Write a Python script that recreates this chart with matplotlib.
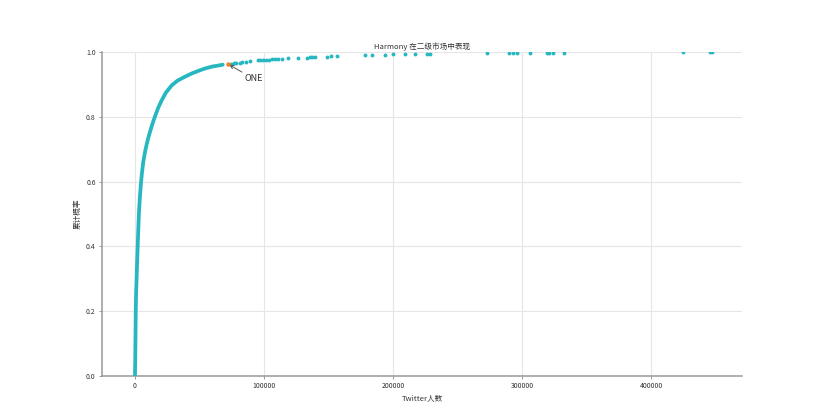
import matplotlib
matplotlib.use("Agg")
import matplotlib.pyplot as plt

plt.rcParams['font.family'] = ['Noto Sans CJK SC', 'DejaVu Sans']

# dense part of the cumulative curve (Twitter followers, cumulative probability)
curve_x = [0, 200, 400, 600, 900, 1300, 1700, 2100, 2600, 3100, 3700, 4400, 5300,
           6400, 7700, 9000, 10300, 11600, 13500, 15500, 18000, 20700, 24000,
           28400, 33000, 38800, 44000, 49100, 54000, 59500, 64000, 68000]
curve_y = [0.0, 0.05, 0.12, 0.20, 0.26, 0.306, 0.355, 0.40, 0.455, 0.505, 0.545,
           0.583, 0.623, 0.660, 0.690, 0.714, 0.735, 0.753, 0.778, 0.801, 0.828,
           0.851, 0.875, 0.897, 0.912, 0.924, 0.934, 0.942, 0.949, 0.955, 0.958, 0.961]

# sparse tail
tail_x = [74500, 76500, 78500, 81000, 83000, 86000, 89000, 95000, 97000, 99000,
          101500, 103500, 106000, 108500, 111000, 114000, 118600, 126400, 133500,
          135500, 137500, 139500, 149000, 151500, 156600, 178300, 183700, 193800,
          200000, 209300, 217000, 226400, 228700, 272900, 290000, 292500, 296100,
          306200, 319000, 321000, 323500, 332600, 424800, 445500, 447300]
tail_y = [0.964, 0.965, 0.966, 0.967, 0.968, 0.969, 0.971, 0.974, 0.975, 0.976,
          0.977, 0.977, 0.978, 0.978, 0.979, 0.980, 0.981, 0.982, 0.983, 0.984,
          0.984, 0.985, 0.986, 0.987, 0.988, 0.990, 0.991, 0.992, 0.993, 0.993,
          0.994, 0.995, 0.995, 0.996, 0.996, 0.997, 0.997, 0.997, 0.998, 0.998,
          0.998, 0.998, 0.999, 1.0, 1.0]

one_x, one_y = 72100, 0.963

teal = '#26b7c1'

fig = plt.figure(figsize=(8.22, 4.2), dpi=100)
ax = fig.add_axes([0.124, 0.105, 0.779, 0.771])

ax.plot(curve_x, curve_y, '-', color=teal, linewidth=2.7, solid_capstyle='round', zorder=3)
ax.plot(tail_x, tail_y, 'o', color=teal, markersize=2.8, markeredgewidth=0,
        linestyle='none', zorder=3)
ax.plot([one_x], [one_y], 'o', color='#f07f2a', markersize=3.2, markeredgewidth=0, zorder=4)

ax.annotate('ONE', xy=(one_x, one_y), xytext=(85000, 0.917),
            fontsize=6.5, ha='left', va='center', color='#333333',
            arrowprops=dict(arrowstyle='->', color='#555555', lw=0.7,
                            shrinkA=0, shrinkB=1))

ax.set_xlim(-25600, 470500)
ax.set_ylim(0, 1.0)
ax.set_xticks([0, 100000, 200000, 300000, 400000])
ax.set_xticklabels(['0', '100000', '200000', '300000', '400000'])
ax.set_yticks([0.0, 0.2, 0.4, 0.6, 0.8, 1.0])
ax.set_yticklabels(['0.0', '0.2', '0.4', '0.6', '0.8', '1.0'])
ax.grid(True, color='#e6e6e6', linewidth=0.8)
ax.set_axisbelow(True)

for s in ['top', 'right']:
    ax.spines[s].set_visible(False)
for s in ['left', 'bottom']:
    ax.spines[s].set_color('#999999')
    ax.spines[s].set_linewidth(1.1)

ax.tick_params(labelsize=5, length=2.5, width=0.6, colors='#888888', labelcolor='#333333', pad=2)
ax.set_title('Harmony 在二级市场中表现', fontsize=5.5, pad=2, color='#333333')
ax.set_xlabel('Twitter人数', fontsize=5.5, labelpad=3, color='#333333')
ax.set_ylabel('累计概率', fontsize=5.5, labelpad=3, color='#333333')

fig.savefig('out.png', dpi=100, facecolor='white')
